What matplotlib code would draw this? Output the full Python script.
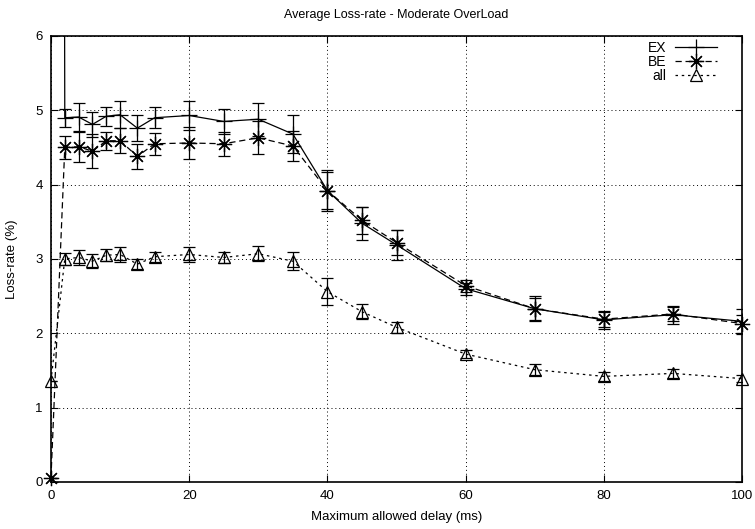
import matplotlib
matplotlib.use("Agg")
import matplotlib.pyplot as plt
from matplotlib.lines import Line2D

plt.rcParams['font.family'] = ['Liberation Sans', 'DejaVu Sans']

delay = [0, 2, 4, 6, 8, 10, 12.5, 15, 20, 25, 30, 35, 40, 45, 50, 60, 70, 80, 90, 100]

ex = [100, 4.90, 4.91, 4.81, 4.92, 4.94, 4.76, 4.90, 4.93, 4.85, 4.88, 4.68, 3.92, 3.48, 3.19, 2.60, 2.33, 2.18, 2.25, 2.16]
ex_err = [0, 0.12, 0.19, 0.17, 0.13, 0.18, 0.17, 0.14, 0.20, 0.17, 0.22, 0.25, 0.28, 0.22, 0.20, 0.08, 0.17, 0.12, 0.12, 0.17]

be = [0.05, 4.50, 4.51, 4.45, 4.59, 4.59, 4.38, 4.55, 4.56, 4.55, 4.63, 4.52, 3.92, 3.52, 3.22, 2.64, 2.33, 2.19, 2.26, 2.13]
be_err = [0, 0.16, 0.20, 0.23, 0.12, 0.17, 0.17, 0.15, 0.22, 0.16, 0.22, 0.20, 0.25, 0.18, 0.17, 0.08, 0.15, 0.10, 0.10, 0.12]

all_ = [1.36, 3.00, 3.02, 2.97, 3.05, 3.06, 2.93, 3.03, 3.06, 3.02, 3.07, 2.97, 2.56, 2.29, 2.08, 1.72, 1.51, 1.42, 1.46, 1.39]
all_err = [0, 0.08, 0.10, 0.09, 0.08, 0.10, 0.07, 0.07, 0.10, 0.07, 0.10, 0.12, 0.18, 0.10, 0.07, 0.05, 0.07, 0.06, 0.06, 0.05]

fig = plt.figure(figsize=(7.55, 5.29), dpi=100)
ax = fig.add_axes([0.0675, 0.089, 0.9155, 0.843])

styles = {
    'EX': dict(marker='+', ls='-', ms=11),
    'BE': dict(marker=(8, 2, 0), ls=(0, (5, 3)), ms=11),
    'all': dict(marker='^', ls=(0, (2, 3)), ms=9, fillstyle='none'),
}
series = [('EX', ex, ex_err), ('BE', be, be_err), ('all', all_, all_err)]

handles = []
for name, vals, err in series:
    st = styles[name]
    c = ax.errorbar(delay, vals, yerr=err, color='black', lw=0.9, elinewidth=0.9,
                    capsize=4, capthick=0.9, mew=0.9, **st)
    if name != 'EX':
        c[0].set_clip_on(False)
    handles.append(Line2D([], [], color='black', lw=0.9, mew=0.9, label=name, **st))

ax.set_xlim(0, 100)
ax.set_ylim(0, 6)
ax.set_xticks([0, 20, 40, 60, 80, 100])
ax.set_yticks([0, 1, 2, 3, 4, 5, 6])
ax.grid(True, color='black', ls=(0, (1, 3)), lw=0.7)
ax.tick_params(direction='in', top=True, right=True, labelsize=9.5, length=5, width=0.8, pad=6)
for s in ax.spines.values():
    s.set_linewidth(1.2)

ax.set_title('Average Loss-rate - Moderate OverLoad', fontsize=9, pad=13)
ax.set_xlabel('Maximum allowed delay (ms)', fontsize=9.5, labelpad=6)
ax.set_ylabel('Loss-rate (%)', fontsize=9.5, labelpad=12)

ax.legend(handles=handles, loc='upper right', bbox_to_anchor=(0.975, 1.008), frameon=False,
          markerfirst=False, fontsize=10, handlelength=3.0, labelspacing=0.0,
          borderaxespad=0.2, handletextpad=0.6)

fig.savefig('out.png', dpi=100)
